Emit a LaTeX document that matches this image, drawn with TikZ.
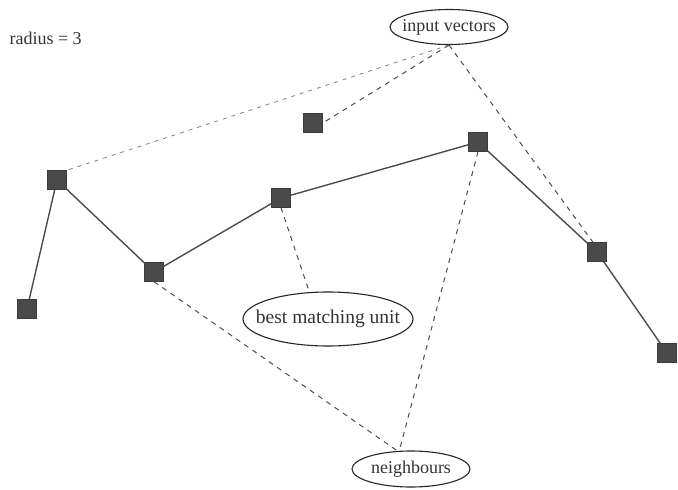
\documentclass[tikz,border=0pt]{standalone}
\usepackage{fontspec}
\setmainfont{Liberation Serif}
\usetikzlibrary{shapes.geometric}
\definecolor{sq}{HTML}{4A4A4A}
\definecolor{ln}{HTML}{4C4C4C}
\newcommand{\zw}[1]{\makebox[0pt]{#1}}
\begin{document}
\begin{tikzpicture}[x=1pt,y=-1pt,
  unit/.style={rectangle,fill=sq,draw=sq!80!black,minimum size=19pt,inner sep=0pt},
  label/.style={ellipse,draw=black!85,line width=1.1pt,inner sep=0pt,font=\fontsize{18}{20}\selectfont,text=black!80},
  chain/.style={draw=ln,line width=1.4pt},
  link/.style={draw=ln,line width=1pt,dash pattern=on 5pt off 5pt},
  lightlink/.style={draw=black!45,line width=0.9pt,dash pattern=on 4pt off 5pt}]
\useasboundingbox (0,0) rectangle (678,490);
\node[anchor=west,font=\fontsize{18}{20}\selectfont,text=black!80] (rad) at (6,38) {radius = 3};
\node[unit] (A) at (27,309) {};
\node[unit] (B) at (57,180) {};
\node[unit] (C) at (154,272) {};
\node[unit] (D) at (281,198) {};
\node[unit] (E) at (478,142) {};
\node[unit] (F) at (597,252) {};
\node[unit] (G) at (667,353) {};
\node[unit] (H) at (313,123) {};
\node[label,minimum width=118pt,minimum height=35pt] (iv) at (449,27) {\zw{input vectors}};
\node[label,minimum width=170pt,minimum height=54pt,font=\fontsize{19.5}{21}\selectfont] (bmu) at (328,319) {\zw{best matching unit}};
\node[label,minimum width=118pt,minimum height=36pt] (nb) at (411,469) {\zw{neighbours}};
\coordinate (nbtop) at (399,452);
\coordinate (bmutop) at (309,291);
\path[chain] (A) -- (B) -- (C) -- (D) -- (E) -- (F) -- (G);
\path[lightlink] (iv.south) -- (B.north east);
\path[link] (iv.south) -- (H.east);
\path[link] (iv.south) -- ([xshift=-4pt]F.north);
\path[link] (E.south) -- (nbtop);
\path[link] (C.south) -- (nbtop);
\path[link] (D.south) -- (bmutop);
\end{tikzpicture}
\end{document}
